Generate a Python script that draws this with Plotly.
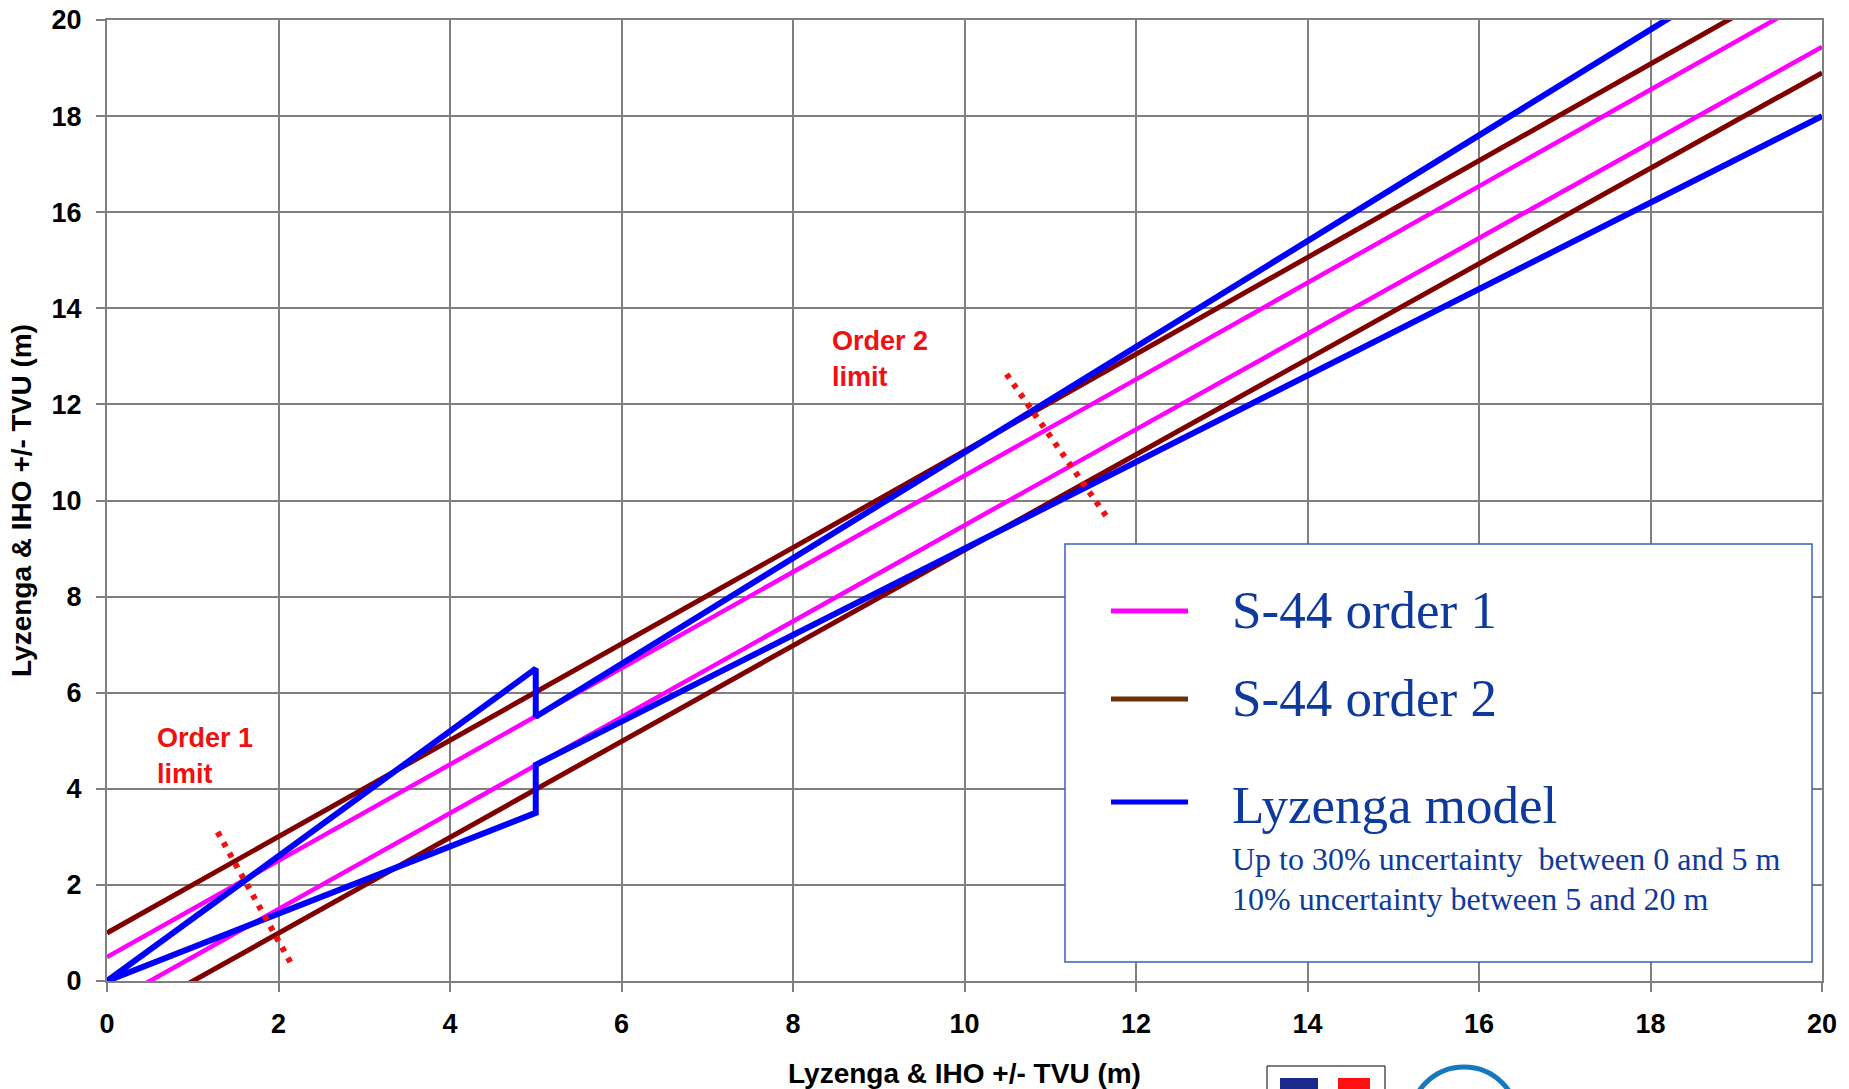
import plotly.graph_objects as go

# ---------------- data ----------------
depth = [0, 2, 4, 6, 8, 10, 12, 14, 16, 18, 20]
order1_upper = [0.50, 2.50, 4.50, 6.51, 8.51, 10.52, 12.52, 14.53, 16.54, 18.55, 20.56]
order1_lower = [-0.50, 1.50, 3.50, 5.49, 7.49, 9.48, 11.48, 13.47, 15.46, 17.45, 19.44]
order2_upper = [1.00, 3.00, 5.00, 7.01, 9.02, 11.03, 13.04, 15.05, 17.07, 19.08, 21.10]
order2_lower = [-1.00, 1.00, 3.00, 4.99, 6.98, 8.97, 10.96, 12.95, 14.93, 16.92, 18.90]

lyzenga_x = [0, 5, 5, 20]
lyzenga_upper = [0.0, 6.5, 5.5, 22.0]
lyzenga_lower = [0.0, 3.5, 4.5, 18.0]

order1_limit_x = [1.29, 2.17]
order1_limit_y = [3.10, 0.29]
order2_limit_x = [10.49, 11.69]
order2_limit_y = [12.63, 9.58]

tick_vals = [0, 2, 4, 6, 8, 10, 12, 14, 16, 18, 20]
x_title = "Lyzenga & IHO +/- TVU (m)"
y_title = "Lyzenga & IHO +/- TVU (m)"
legend_labels = ["S-44 order 1", "S-44 order 2", "Lyzenga model"]
legend_note = ["Up to 30% uncertainty  between 0 and 5 m",
               "10% uncertainty between 5 and 20 m"]

# ---------------- styling ----------------
W, H = 1849, 1089
L, R, T, B = 107, 27, 20, 108
PW, PH = W - L - R, H - T - B

MAGENTA = "#FF00FF"
MAROON = "#800000"
BLUE = "#0000FF"
RED = "#F01010"
GRID = "#808080"
NAVY = "#0E3A9C"
SANS = "Liberation Sans, Arial, sans-serif"
SERIF = "Liberation Serif, Times New Roman, serif"


def px(xp):
    return (xp - L) / PW


def py(yp):
    return (H - B - yp) / PH


fig = go.Figure()

for ys in (order2_upper, order2_lower):
    fig.add_trace(go.Scatter(x=depth, y=ys, mode="lines", showlegend=False,
                             line=dict(color=MAROON, width=5), hoverinfo="skip"))
for ys in (order1_upper, order1_lower):
    fig.add_trace(go.Scatter(x=depth, y=ys, mode="lines", showlegend=False,
                             line=dict(color=MAGENTA, width=4.5), hoverinfo="skip"))
for ys in (lyzenga_upper, lyzenga_lower):
    fig.add_trace(go.Scatter(x=lyzenga_x, y=ys, mode="lines", showlegend=False,
                             line=dict(color=BLUE, width=6), hoverinfo="skip"))
for xs, ys in ((order1_limit_x, order1_limit_y), (order2_limit_x, order2_limit_y)):
    fig.add_trace(go.Scatter(x=xs, y=ys, mode="lines", showlegend=False,
                             line=dict(color=RED, width=6, dash="5px,7px"),
                             hoverinfo="skip"))

axis_common = dict(
    range=[0, 20], tickvals=tick_vals, showgrid=True, gridcolor=GRID, gridwidth=1.5,
    zeroline=False, showline=True, linecolor=GRID, linewidth=2, mirror=True,
    ticks="outside", ticklen=9, tickwidth=1.5, tickcolor=GRID, automargin=False,
    tickfont=dict(family=SANS, size=27, color="black", weight="bold"),
)

fig.update_layout(
    width=W, height=H,
    margin=dict(l=L, r=R, t=T, b=B, autoexpand=False),
    paper_bgcolor="white", plot_bgcolor="white",
    xaxis=dict(**axis_common, ticklabelstandoff=9,
               title=dict(text=x_title, standoff=27,
                          font=dict(family=SANS, size=28, color="black", weight="bold"))),
    yaxis=dict(**axis_common, ticklabelstandoff=9,
               title=dict(text=y_title, standoff=12,
                          font=dict(family=SANS, size=28, color="black", weight="bold"))),
    showlegend=False,
)

# Order limit labels
for txt, xv, yv in (("Order 1", 0.56, 5.06), ("limit", 0.56, 4.31),
                    ("Order 2", 8.43, 13.32), ("limit", 8.43, 12.57)):
    fig.add_annotation(x=xv, y=yv, xref="x", yref="y", text=txt, showarrow=False,
                       xanchor="left", yanchor="middle",
                       font=dict(family=SANS, size=27, color=RED, weight="bold"))

# Legend box (drawn manually)
shapes = [dict(type="rect", xref="paper", yref="paper", layer="above",
               x0=px(1065), x1=px(1812), y0=py(962), y1=py(544),
               line=dict(color="#3A5FBF", width=1.5), fillcolor="white")]
swatch_colors = [MAGENTA, "#6B300A", BLUE]
swatch_y = [611, 699, 802]
for c, yy in zip(swatch_colors, swatch_y):
    shapes.append(dict(type="line", xref="paper", yref="paper", layer="above",
                       x0=px(1111), x1=px(1188), y0=py(yy), y1=py(yy),
                       line=dict(color=c, width=5)))

label_y = [610, 698, 805]
for txt, yy in zip(legend_labels, label_y):
    fig.add_annotation(x=px(1230), y=py(yy), xref="paper", yref="paper", text=txt,
                       showarrow=False, xanchor="left", yanchor="middle",
                       font=dict(family=SERIF, size=53, color=NAVY))
for txt, yy in zip(legend_note, [859, 899]):
    fig.add_annotation(x=px(1230), y=py(yy), xref="paper", yref="paper", text=txt,
                       showarrow=False, xanchor="left", yanchor="middle",
                       font=dict(family=SERIF, size=32, color=NAVY))

# Partial logos at the bottom edge
shapes += [
    dict(type="rect", xref="paper", yref="paper", x0=px(1267), x1=px(1385),
         y0=py(1100), y1=py(1066), line=dict(color="black", width=1), fillcolor="white"),
    dict(type="rect", xref="paper", yref="paper", x0=px(1280), x1=px(1318),
         y0=py(1100), y1=py(1078), line=dict(width=0), fillcolor="#1A2A8C"),
    dict(type="rect", xref="paper", yref="paper", x0=px(1338), x1=px(1370),
         y0=py(1100), y1=py(1078), line=dict(width=0), fillcolor="#FF1010"),
    dict(type="circle", xref="paper", yref="paper", x0=px(1410), x1=px(1518),
         y0=py(1175), y1=py(1067), line=dict(color="#1878BE", width=5),
         fillcolor="white"),
]
fig.update_layout(shapes=shapes)

fig.write_html("out.html")
